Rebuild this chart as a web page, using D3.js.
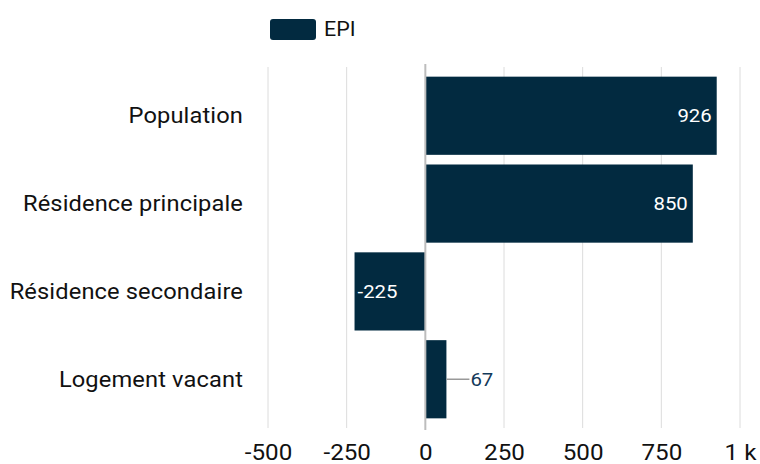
<!DOCTYPE html>
<html><head><meta charset="utf-8">
<script src="https://cdn.jsdelivr.net/npm/d3@7"></script>
<style>body{margin:0;background:#fff}svg{display:block;font-family:Roboto,sans-serif}</style>
</head><body><svg id="c" width="760" height="464"></svg>
<script>
const categories = ["Population", "Résidence principale", "Résidence secondaire", "Logement vacant"];
const values = [926, 850, -225, 67];
const seriesName = "EPI";
const xTicks = [-500, -250, 0, 250, 500, 750, 1000];
const xTickLabels = ["-500", "-250", "0", "250", "500", "750", "1 k"];

const color = "#022a40";
const SX = 1.1; // horizontal text stretch seen in the reference
const svg = d3.select("#c");
const x = d3.scaleLinear().domain([-500, 1000]).range([268, 740]);
const y = d3.scaleBand().domain(categories).range([67, 428]).paddingInner(0.11).paddingOuter(0.11);

function txt(g, px, py, s, size, anchor, fill, ls) {
  return g.append("text")
    .attr("transform", `translate(${px},${py}) scale(${SX},1)`)
    .attr("dy", "0.35em").attr("text-anchor", anchor)
    .attr("letter-spacing", ls || 0)
    .attr("font-size", size).attr("fill", fill).text(s);
}

// gridlines
svg.append("g").selectAll("line").data(xTicks.filter(d => d !== 0)).join("line")
  .attr("x1", d => x(d)).attr("x2", d => x(d)).attr("y1", 67).attr("y2", 428)
  .attr("stroke", "#dcdcdc").attr("stroke-width", 1);

// bars
svg.append("g").selectAll("rect").data(values).join("rect")
  .attr("x", d => x(Math.min(0, d))).attr("width", d => Math.abs(x(d) - x(0)))
  .attr("y", (d, i) => y(categories[i])).attr("height", y.bandwidth())
  .attr("fill", color);

// zero line
svg.append("line").attr("x1", x(0)).attr("x2", x(0)).attr("y1", 64).attr("y2", 430)
  .attr("stroke", "#bdbdbd").attr("stroke-width", 2);

// value labels
const lab = svg.append("g");
values.forEach((d, i) => {
  const cy = y(categories[i]) + y.bandwidth() / 2;
  const w = Math.abs(x(d) - x(0));
  if (w > 50) {
    if (d >= 0) txt(lab, x(d) - 5, cy, d, 18.5, "end", "#fff");
    else txt(lab, x(d) + 3, cy, d, 18.5, "start", "#fff");
  } else {
    lab.append("line").attr("x1", x(d)).attr("x2", x(d) + 23).attr("y1", cy).attr("y2", cy)
      .attr("stroke", "#999").attr("stroke-width", 1.5);
    txt(lab, x(d) + 24, cy, d, 18.5, "start", "#12395a");
  }
});

// y axis labels
const gy = svg.append("g");
categories.forEach(c => txt(gy, 243, y(c) + y.bandwidth() / 2, c, 21.5, "end", "#111", 0.12));

// x axis labels
const xAxis = d3.axisBottom(x).tickValues(xTicks).tickSize(0).tickPadding(0)
  .tickFormat((d, i) => xTickLabels[i]);
const gx = svg.append("g").attr("transform", "translate(0,444)").call(xAxis);
gx.select(".domain").remove();
gx.selectAll("text").attr("font-size", 22).attr("font-family", "Roboto,sans-serif").attr("fill", "#111")
  .attr("transform", `scale(${SX},1)`);

// legend
svg.append("rect").attr("x", 270).attr("y", 19).attr("width", 46).attr("height", 21).attr("rx", 3).attr("fill", color);
txt(svg, 324, 29.5, seriesName, 19.5, "start", "#111");
</script></body></html>
